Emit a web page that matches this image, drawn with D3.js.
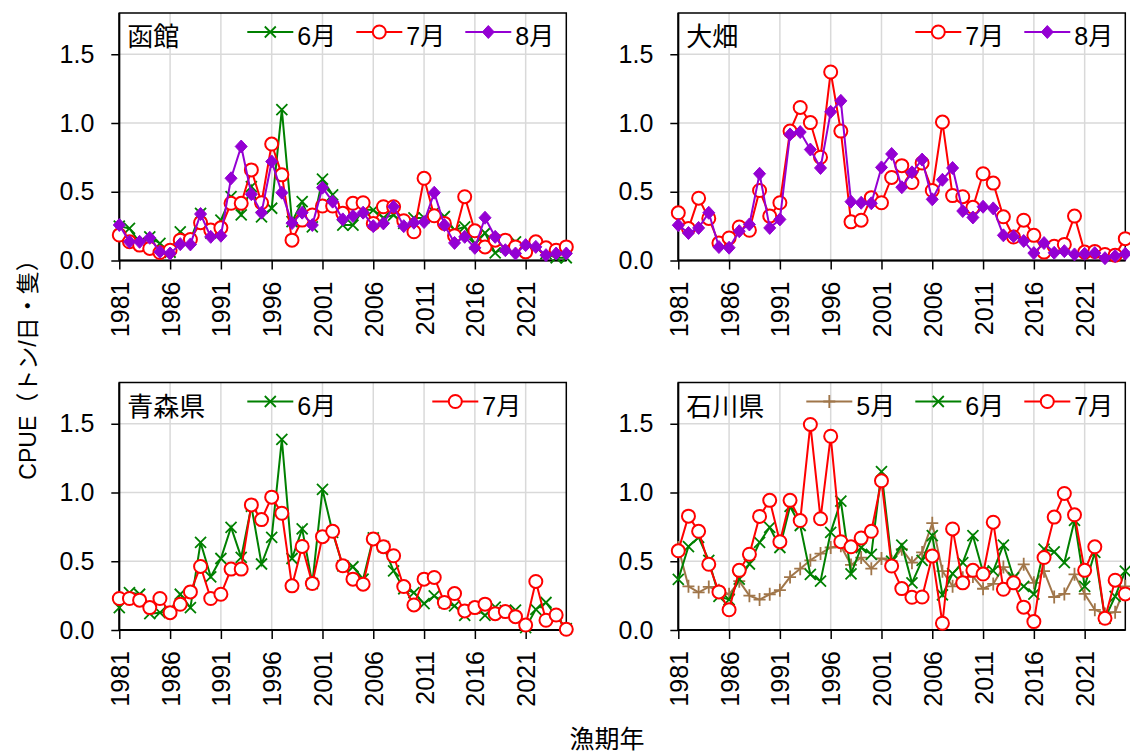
<!DOCTYPE html>
<html>
<head>
<meta charset="utf-8">
<script src="https://cdn.jsdelivr.net/npm/d3@7"></script>
<style>
  body { margin: 0; background: #fff; }
  svg { display: block; }
  text { font-family: "Liberation Sans", Arial, "Noto Sans CJK JP", sans-serif; fill: #000; }
  .cjk { font-family: "Liberation Sans", "Noto Sans CJK JP", sans-serif; }
</style>
</head>
<body>
<svg id="chart" width="1130" height="753"></svg>
<script>
// ---------- data ----------
const years = d3.range(1981, 2026);
const xTickValues = [1981, 1986, 1991, 1996, 2001, 2006, 2011, 2016, 2021];
const yTickValues = [0, 0.5, 1.0, 1.5];

const hakodate6 = [0.25,0.233,0.13,0.172,0.124,0.06,0.209,0.15,0.343,0.2,0.294,0.464,0.331,0.537,0.318,0.38,1.097,0.282,0.428,0.245,0.591,0.477,0.258,0.258,0.37,0.367,0.31,0.33,0.27,0.31,0.31,0.35,0.32,0.221,0.245,0.12,0.2,0.055,0.099,0.136,0.07,0.1,0.05,0.02,0.02];
const hakodate7 = [0.185,0.136,0.112,0.088,0.058,0.075,0.148,0.153,0.275,0.221,0.238,0.416,0.416,0.659,0.42,0.847,0.623,0.148,0.294,0.331,0.396,0.396,0.343,0.416,0.42,0.27,0.391,0.391,0.289,0.209,0.598,0.325,0.27,0.18,0.464,0.216,0.099,0.148,0.148,0.099,0.063,0.136,0.092,0.075,0.099];
const hakodate8 = [0.258,0.136,0.136,0.165,0.063,0.051,0.119,0.117,0.338,0.172,0.18,0.598,0.829,0.482,0.348,0.72,0.493,0.272,0.348,0.258,0.53,0.428,0.299,0.323,0.348,0.25,0.27,0.391,0.25,0.275,0.28,0.493,0.258,0.128,0.172,0.092,0.311,0.172,0.075,0.051,0.112,0.099,0.039,0.051,0.051];

const ohata7 = [0.347,0.232,0.453,0.306,0.127,0.164,0.244,0.22,0.509,0.323,0.42,0.941,1.113,1.003,0.751,1.371,0.941,0.281,0.293,0.457,0.42,0.604,0.69,0.567,0.709,0.509,1.007,0.472,0.464,0.387,0.631,0.563,0.318,0.171,0.293,0.183,0.061,0.103,0.117,0.323,0.061,0.066,0.044,0.039,0.159];
const ohata8 = [0.257,0.2,0.237,0.347,0.098,0.093,0.213,0.262,0.631,0.237,0.299,0.917,0.934,0.807,0.673,1.081,1.161,0.428,0.42,0.416,0.677,0.775,0.533,0.641,0.734,0.445,0.587,0.673,0.36,0.313,0.391,0.379,0.183,0.176,0.142,0.054,0.127,0.056,0.068,0.044,0.049,0.054,0.017,0.032,0.049];

const aomori6 = [0.163,0.272,0.26,0.119,0.126,0.138,0.26,0.163,0.637,0.387,0.52,0.747,0.528,0.9,0.48,0.674,1.387,0.52,0.735,0.338,1.022,0.71,0.467,0.46,0.37,0.67,0.606,0.43,0.3,0.272,0.192,0.248,0.2,0.175,0.107,0.16,0.107,0.166,0.14,0.144,0.017,0.15,0.2,0.1,0.01];
const aomori7 = [0.229,0.229,0.217,0.163,0.229,0.126,0.187,0.277,0.462,0.229,0.26,0.443,0.443,0.91,0.803,0.966,0.849,0.321,0.608,0.338,0.679,0.718,0.467,0.37,0.333,0.662,0.606,0.54,0.316,0.182,0.37,0.382,0.2,0.265,0.139,0.163,0.188,0.119,0.134,0.097,0.036,0.353,0.071,0.109,0.005];

const ishikawa5 = [0.6,0.318,0.274,0.313,0.29,0.26,0.355,0.25,0.221,0.26,0.29,0.385,0.446,0.507,0.556,0.6,0.613,0.473,0.527,0.446,0.52,0.5,0.588,0.49,0.564,0.777,0.428,0.318,0.38,0.39,0.3,0.335,0.458,0.362,0.478,0.343,0.428,0.24,0.262,0.405,0.262,0.147,0.117,0.13,0.318];
const ishikawa6 = [0.368,0.607,0.674,0.507,0.245,0.221,0.37,0.48,0.637,0.747,0.6,0.899,0.76,0.404,0.355,0.71,0.938,0.409,0.6,0.55,1.151,0.5,0.618,0.343,0.507,0.686,0.255,0.41,0.49,0.686,0.42,0.43,0.618,0.38,0.318,0.261,0.588,0.569,0.49,0.797,0.318,0.564,0.085,0.245,0.428];
const ishikawa7 = [0.576,0.828,0.718,0.478,0.277,0.147,0.434,0.551,0.826,0.943,0.642,0.943,0.796,1.495,0.809,1.409,0.642,0.605,0.669,0.718,1.085,0.465,0.301,0.238,0.24,0.539,0.049,0.735,0.343,0.434,0.407,0.784,0.296,0.343,0.166,0.061,0.527,0.821,0.993,0.838,0.434,0.605,0.085,0.362,0.262];

const panelTitles = ["函館", "大畑", "青森県", "石川県"];
const yAxisTitle = "CPUE（トン/日・隻）";
const xAxisTitle = "漁期年";

// ---------- styles ----------
const styles = {
  "5月": { color: "#a0764a", marker: "plus" },
  "6月": { color: "#008000", marker: "x" },
  "7月": { color: "#ff0000", marker: "circle" },
  "8月": { color: "#9400d3", marker: "diamond" }
};

const panels = [
  { title: panelTitles[0], left: 119.3, top: 13,  series: [["6月", hakodate6], ["7月", hakodate7], ["8月", hakodate8]], legendSlots: [128, 237, 346] },
  { title: panelTitles[1], left: 678.3, top: 13,  series: [["7月", ohata7], ["8月", ohata8]], legendSlots: [237, 346] },
  { title: panelTitles[2], left: 119.3, top: 382.5, series: [["6月", aomori6], ["7月", aomori7]], legendSlots: [128, 313] },
  { title: panelTitles[3], left: 678.3, top: 382.5, series: [["5月", ishikawa5], ["6月", ishikawa6], ["7月", ishikawa7]], legendSlots: [128, 237, 346] }
];
const W = 447, H = 247.5;
const yMax = 1.8;

const svg = d3.select("#chart");

function drawMarker(g, type, color) {
  if (type === "circle") {
    g.append("circle").attr("r", 6.5).attr("fill", "#fff").attr("stroke", color).attr("stroke-width", 2);
  } else if (type === "diamond") {
    g.append("path").attr("d", "M0,-6.5L6,0L0,6.5L-6,0Z").attr("fill", color).attr("stroke", color).attr("stroke-width", 1);
  } else if (type === "x") {
    g.append("path").attr("d", "M-5.5,-5.5L5.5,5.5M-5.5,5.5L5.5,-5.5").attr("stroke", color).attr("stroke-width", 1.8).attr("fill", "none");
  } else if (type === "plus") {
    g.append("path").attr("d", "M-6,0L6,0M0,-6.5L0,6.5").attr("stroke", color).attr("stroke-width", 1.8).attr("fill", "none");
  }
}

panels.forEach(p => {
  const x = d3.scaleLinear().domain([1981, 2025]).range([p.left, p.left + W]);
  const y = d3.scaleLinear().domain([0, yMax]).range([p.top + H, p.top]);
  const g = svg.append("g");

  // gridlines
  g.append("g").selectAll("line").data(yTickValues.filter(v => v > 0)).join("line")
    .attr("x1", p.left).attr("x2", p.left + W)
    .attr("y1", d => y(d)).attr("y2", d => y(d))
    .attr("stroke", "#d9d9d9").attr("stroke-width", 1.5);
  g.append("g").selectAll("line").data(xTickValues.filter(v => v > 1981)).join("line")
    .attr("x1", d => x(d)).attr("x2", d => x(d))
    .attr("y1", p.top).attr("y2", p.top + H)
    .attr("stroke", "#d9d9d9").attr("stroke-width", 1.5);

  // border
  g.append("rect").attr("x", p.left).attr("y", p.top).attr("width", W).attr("height", H)
    .attr("fill", "none").attr("stroke", "#000").attr("stroke-width", 1.5);

  // axes
  const yAxis = d3.axisLeft(y).tickValues(yTickValues).tickFormat(d3.format(".1f")).tickSize(8).tickPadding(17);
  const ya = g.append("g").attr("transform", `translate(${p.left},0)`).call(yAxis);
  ya.select(".domain").attr("stroke-width", 2).attr("d", `M0,${p.top + H}V${p.top}`);
  ya.selectAll(".tick line").attr("stroke-width", 1.5);
  ya.selectAll("text").attr("font-size", 25).attr("font-family", "Liberation Sans, Arial, sans-serif");

  const xAxis = d3.axisBottom(x).tickValues(xTickValues).tickFormat(d3.format("d")).tickSize(9);
  const xa = g.append("g").attr("transform", `translate(0,${p.top + H})`).call(xAxis);
  xa.select(".domain").attr("stroke-width", 2).attr("d", `M${p.left},0H${p.left + W}`);
  xa.selectAll(".tick line").attr("stroke-width", 1.5);
  xa.selectAll("text")
    .attr("font-size", 25).attr("font-family", "Liberation Sans, Arial, sans-serif")
    .attr("transform", "rotate(-90)")
    .attr("text-anchor", "end")
    .attr("x", -21).attr("y", 0).attr("dy", "0.36em");

  // series
  p.series.forEach(([name, values]) => {
    const st = styles[name];
    const data = years.map((yr, i) => ({ yr, v: values[i] }));
    g.append("path").datum(data)
      .attr("fill", "none").attr("stroke", st.color).attr("stroke-width", 2)
      .attr("d", d3.line().x(d => x(d.yr)).y(d => y(d.v)));
    const mk = g.append("g").selectAll("g").data(data).join("g")
      .attr("transform", d => `translate(${x(d.yr)},${y(d.v)})`);
    mk.each(function () { drawMarker(d3.select(this), st.marker, st.color); });
  });

  // panel title
  g.append("text").attr("class", "cjk").attr("x", p.left + 8).attr("y", p.top + 33)
    .attr("font-size", 26).text(p.title);

  // legend
  p.series.forEach(([name], k) => {
    const st = styles[name];
    const lx = p.left + p.legendSlots[k];
    const ly = p.top + 19;
    const lg = g.append("g");
    lg.append("line").attr("x1", lx).attr("x2", lx + 46).attr("y1", ly).attr("y2", ly)
      .attr("stroke", st.color).attr("stroke-width", 2);
    const m = lg.append("g").attr("transform", `translate(${lx + 23},${ly})`);
    drawMarker(m, st.marker, st.color);
    lg.append("text").attr("class", "cjk").attr("x", lx + 50).attr("y", p.top + 32)
      .attr("font-size", 25).text(name);
  });
});

// axis titles
svg.append("text").attr("class", "cjk")
  .attr("transform", "translate(36,364) rotate(-90)")
  .attr("text-anchor", "middle").attr("font-size", 23).text(yAxisTitle);
svg.append("text").attr("class", "cjk")
  .attr("x", 607).attr("y", 748).attr("text-anchor", "middle")
  .attr("font-size", 25).text(xAxisTitle);
</script>
</body>
</html>
